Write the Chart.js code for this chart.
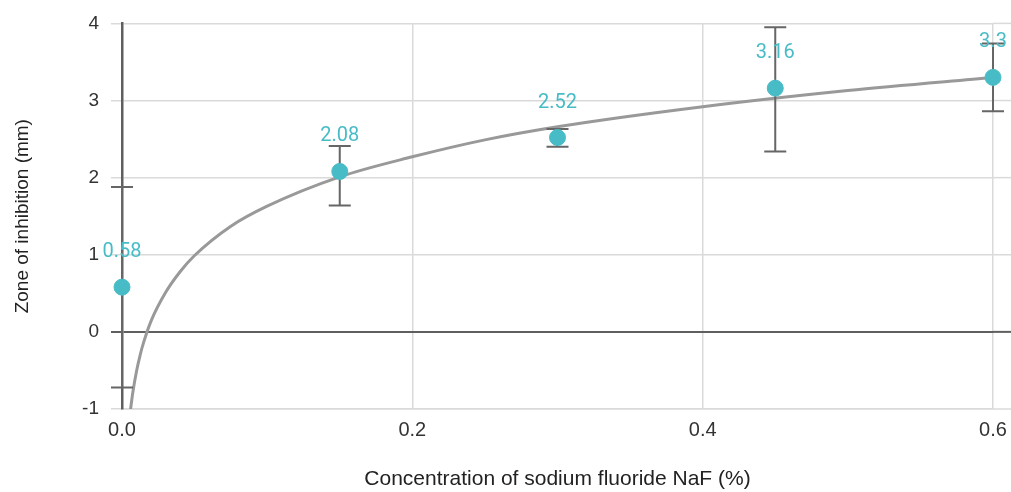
<!DOCTYPE html>
<html><head><meta charset="utf-8">
<script src="https://cdn.jsdelivr.net/npm/chart.js@4/dist/chart.umd.min.js"></script>
<style>html,body{margin:0;padding:0;background:#fff;overflow:hidden}#wrap{width:1011px;height:492px}</style>
</head><body><div id="wrap"><canvas id="c"></canvas></div>
<script>
const concentrations = [0, 0.15, 0.3, 0.45, 0.6];
const zoneValues = [0.58, 2.08, 2.52, 3.16, 3.3];
const errorLow = [-0.72, 1.64, 2.40, 2.34, 2.86];
const errorHigh = [1.88, 2.41, 2.63, 3.95, 3.74];
const trendX = [0.0055, 0.0075, 0.01, 0.0125, 0.015, 0.02, 0.03, 0.04, 0.05, 0.075, 0.1, 0.15, 0.2, 0.25, 0.3, 0.4, 0.5, 0.6];
const trendY = [-1.06, -0.78, -0.51, -0.30, -0.13, 0.14, 0.51, 0.78, 0.99, 1.37, 1.63, 2.01, 2.27, 2.49, 2.66, 2.92, 3.13, 3.30];
const xTickValues = [0, 0.2, 0.4, 0.6];
const xTickLabels = ['0.0', '0.2', '0.4', '0.6'];
const yTickLabels = ['-1', '0', '1', '2', '3', '4'];

const TEAL = '#48bcc6';
const GRID = '#dadada';
const DARK = '#5f5f5f';

const errorBarPlugin = {
  id: 'errorBars',
  beforeDatasetsDraw(chart) {
    // horizontal grid lines continue past the last x tick to the right edge
    const ctx = chart.ctx, ys = chart.scales.y, area = chart.chartArea;
    ctx.save();
    ys.ticks.forEach(t => {
      const py = ys.getPixelForValue(t.value);
      ctx.strokeStyle = t.value === 0 ? DARK : GRID;
      ctx.lineWidth = t.value === 0 ? 2 : 1.5;
      ctx.beginPath();
      ctx.moveTo(area.right, py); ctx.lineTo(chart.width, py);
      ctx.stroke();
    });
    ctx.restore();
  },
  afterDatasetDraw(chart, args) {
    if (args.index !== 0) return;
    const ctx = chart.ctx, xs = chart.scales.x, ys = chart.scales.y;
    ctx.save();
    ctx.strokeStyle = '#666666';
    ctx.lineWidth = 2;
    concentrations.forEach((c, i) => {
      const px = xs.getPixelForValue(c);
      const y1 = ys.getPixelForValue(errorLow[i]);
      const y2 = ys.getPixelForValue(errorHigh[i]);
      ctx.beginPath();
      ctx.moveTo(px, y1); ctx.lineTo(px, y2);
      ctx.moveTo(px - 11, y1); ctx.lineTo(px + 11, y1);
      ctx.moveTo(px - 11, y2); ctx.lineTo(px + 11, y2);
      ctx.stroke();
    });
    ctx.restore();
  },
  afterDatasetsDraw(chart) {
    const ctx = chart.ctx, xs = chart.scales.x, ys = chart.scales.y;
    ctx.save();
    ctx.fillStyle = TEAL;
    ctx.font = '20px Roboto';
    ctx.textAlign = 'center';
    ctx.textBaseline = 'middle';
    concentrations.forEach((c, i) => {
      const px = xs.getPixelForValue(c);
      const py = ys.getPixelForValue(zoneValues[i]);
      ctx.fillText(String(zoneValues[i]), px, py - 35);
    });
    ctx.restore();
  }
};

new Chart(document.getElementById('c'), {
  type: 'scatter',
  data: {
    datasets: [
      {
        label: 'Trend',
        data: trendX.map((x, i) => ({x, y: trendY[i]})),
        showLine: true,
        borderColor: '#999999',
        borderWidth: 3,
        pointRadius: 0,
        cubicInterpolationMode: 'monotone',
        order: 2
      },
      {
        label: 'Zone of inhibition',
        data: concentrations.map((x, i) => ({x, y: zoneValues[i]})),
        backgroundColor: TEAL,
        borderColor: TEAL,
        pointRadius: 8,
        pointHoverRadius: 8,
        clip: false,
        order: 1
      }
    ]
  },
  plugins: [errorBarPlugin],
  options: {
    responsive: true,
    maintainAspectRatio: false,
    animation: false,
    layout: { autoPadding: false, padding: { top: 20, right: 18, bottom: 0, left: 0 } },
    plugins: { legend: { display: false }, tooltip: { enabled: false } },
    scales: {
      x: {
        type: 'linear',
        min: 0,
        max: 0.6,
        afterBuildTicks: (s) => { s.ticks = xTickValues.map(v => ({value: v})); },
        afterFit: (s) => { s.height = 83; },
        ticks: {
          callback: (v) => xTickLabels[xTickValues.indexOf(v)] ?? '',
          color: '#333',
          font: { family: 'Liberation Sans', size: 20 },
          padding: 0,
          maxRotation: 0
        },
        grid: {
          color: (ctx) => ctx.tick && ctx.tick.value === 0 ? 'rgba(0,0,0,0)' : GRID,
          lineWidth: 1.5,
          drawTicks: true,
          tickLength: 9,
          tickColor: 'rgba(0,0,0,0)'
        },
        border: { color: GRID, width: 1.5 },
        title: {
          display: true,
          text: 'Concentration of sodium fluoride NaF (%)',
          color: '#222',
          font: { family: 'Liberation Sans', size: 21 },
          padding: { top: 0, bottom: 0 }
        }
      },
      y: {
        min: -1,
        max: 4,
        afterFit: (s) => { s.width = 122; },
        ticks: {
          stepSize: 1,
          callback: (v) => yTickLabels[v + 1] ?? '',
          color: '#333',
          font: { family: 'Liberation Sans', size: 19 },
          padding: 12
        },
        grid: {
          color: (ctx) => ctx.tick && ctx.tick.value === 0 ? DARK : GRID,
          lineWidth: (ctx) => ctx.tick && ctx.tick.value === 0 ? 2 : 1.5,
          tickLength: 11
        },
        border: { color: DARK, width: 2.5 },
        title: {
          display: true,
          text: 'Zone of inhibition (mm)',
          color: '#222',
          font: { family: 'Liberation Sans', size: 19 },
          padding: { top: 11, bottom: 0 }
        }
      }
    }
  }
});
</script>
</body></html>
